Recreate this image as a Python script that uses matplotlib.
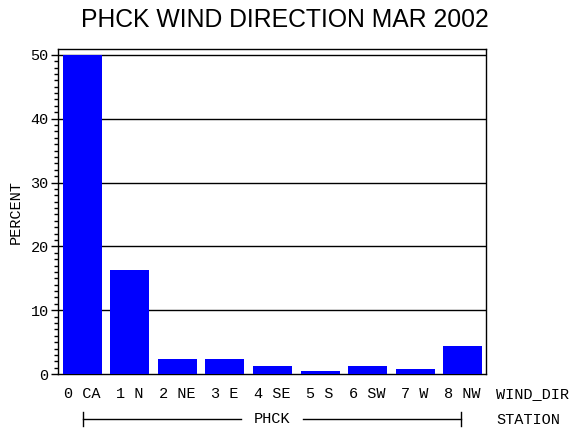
import numpy as np
import matplotlib
matplotlib.use("Agg")
import matplotlib.pyplot as plt
from matplotlib.ticker import MultipleLocator

directions = ["0 CA", "1 N", "2 NE", "3 E", "4 SE", "5 S", "6 SW", "7 W", "8 NW"]
percent = [50.0, 16.3, 2.4, 2.4, 1.3, 0.5, 1.3, 0.8, 4.4]
station = "PHCK"
yticks = [0, 10, 20, 30, 40, 50]

mono = "Liberation Mono"

fig = plt.figure(figsize=(5.7, 4.3), dpi=100)
ax = fig.add_axes([0.1025, 0.130, 0.751, 0.756])

x = np.arange(len(directions))
ax.bar(x, percent, width=0.82, color="#0000ff", zorder=3)

for v in yticks[1:]:
    ax.axhline(v, color="black", linewidth=1.0, zorder=2)

ax.set_xlim(-0.5, len(directions) - 0.5)
ax.set_ylim(0, 50.9)
ax.set_yticks(yticks)
ax.set_yticklabels([str(v) for v in yticks], fontfamily=mono, fontsize=11)
ax.yaxis.set_minor_locator(MultipleLocator(1))
ax.tick_params(axis="y", which="major", length=5, width=1, direction="out", pad=2)
ax.tick_params(axis="y", which="minor", length=3, width=1, direction="out")

ax.set_xticks(x)
ax.set_xticklabels(directions, fontfamily=mono, fontsize=11)
ax.tick_params(axis="x", length=0, pad=9)

for sp in ax.spines.values():
    sp.set_linewidth(1.0)

fig.text(16 / 570, 1 - 212 / 430, "PERCENT", rotation=90, ha="center", va="center",
         fontfamily=mono, fontsize=11)

fig.text(0.5, 1 - 20 / 430, "PHCK WIND DIRECTION MAR 2002", ha="center", va="center",
         fontfamily="Liberation Sans", fontsize=17.8)

# axis group labels on the right
fig.text(0.870, 1 - 394 / 430, "WIND_DIR", ha="left", va="center",
         fontfamily=mono, fontsize=11)
fig.text(0.870, 1 - 420 / 430, "STATION", ha="left", va="center",
         fontfamily=mono, fontsize=11)

# station bracket under the categories
yb = 1 - 419 / 430
x0, x1 = 83 / 570, 461 / 570
xm = (x0 + x1) / 2
fig.add_artist(plt.Line2D([x0, xm - 0.055], [yb, yb], color="black", lw=1))
fig.add_artist(plt.Line2D([xm + 0.055, x1], [yb, yb], color="black", lw=1))
fig.add_artist(plt.Line2D([x0, x0], [yb - 0.017, yb + 0.017], color="black", lw=1))
fig.add_artist(plt.Line2D([x1, x1], [yb - 0.017, yb + 0.017], color="black", lw=1))
fig.text(xm, yb, station, ha="center", va="center", fontfamily=mono, fontsize=11)

fig.savefig("out.png", dpi=100)
